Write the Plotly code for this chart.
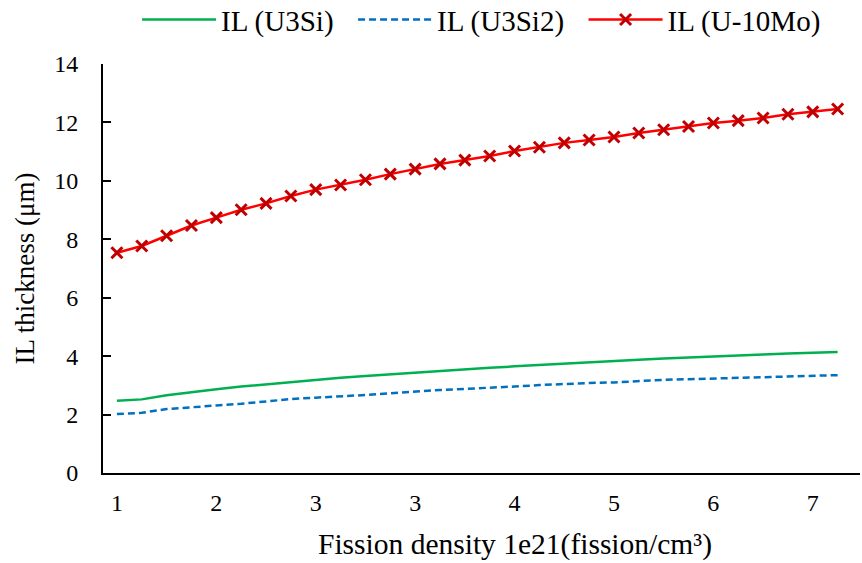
import plotly.graph_objects as go

fission_density = [1.0, 1.2, 1.4, 1.6, 1.8, 2.0, 2.2, 2.4, 2.6, 2.8,
                   3.0, 3.2, 3.4, 3.6, 3.8, 4.0, 4.2, 4.4, 4.6, 4.8,
                   5.0, 5.2, 5.4, 5.6, 5.8, 6.0, 6.2, 6.4, 6.6, 6.8]

il_u3si = [2.47, 2.52, 2.66, 2.77, 2.87, 2.96, 3.04, 3.12, 3.19, 3.26,
           3.32, 3.38, 3.44, 3.50, 3.55, 3.60, 3.65, 3.70, 3.75, 3.79,
           3.84, 3.88, 3.92, 3.96, 4.00, 4.03, 4.06, 4.09, 4.12, 4.14]

il_u3si2 = [2.02, 2.06, 2.19, 2.26, 2.31, 2.37, 2.46, 2.53, 2.58, 2.62,
            2.67, 2.73, 2.79, 2.84, 2.88, 2.91, 2.96, 3.01, 3.05, 3.08,
            3.10, 3.15, 3.19, 3.21, 3.23, 3.26, 3.29, 3.31, 3.33, 3.35]

il_u10mo = [7.54, 7.77, 8.12, 8.47, 8.74, 9.01, 9.23, 9.48, 9.70, 9.86,
            10.04, 10.23, 10.40, 10.58, 10.71, 10.85, 11.02, 11.15, 11.30, 11.40,
            11.50, 11.64, 11.75, 11.86, 11.98, 12.06, 12.15, 12.28, 12.36, 12.46]

series_names = ["IL (U3Si)", "IL (U3Si2)", "IL (U-10Mo)"]

y_ticks = [0, 2, 4, 6, 8, 10, 12, 14]

idx = list(range(len(fission_density)))
tick_idx = idx[::4]
tick_text = [f"{fission_density[i]:.0f}" for i in tick_idx]

FONT = "'Liberation Serif', 'Times New Roman', 'DejaVu Serif', serif"
PAD = "\u00a0\u00a0"

fig = go.Figure()
fig.add_trace(go.Scatter(x=idx, y=il_u3si, mode="lines", name=series_names[0] + PAD,
                         line=dict(color="#00B050", width=2.5)))
fig.add_trace(go.Scatter(x=idx, y=il_u3si2, mode="lines", name=series_names[1] + PAD,
                         line=dict(color="#0070C0", width=2.5, dash="7px,4px")))
fig.add_trace(go.Scatter(x=idx, y=il_u10mo, mode="lines+markers", name=series_names[2],
                         line=dict(color="#FF0000", width=2.5),
                         marker=dict(symbol="x-thin", size=11, color="#C00000",
                                     line=dict(color="#C00000", width=3))))

fig.update_layout(
    width=862, height=563,
    margin=dict(l=103, r=2, t=64, b=90, autoexpand=False),
    paper_bgcolor="white", plot_bgcolor="white",
    font=dict(family=FONT, color="#000000"),
    showlegend=True,
    legend=dict(orientation="h", x=0.045, xanchor="left", y=0.965, yanchor="middle",
                yref="container", font=dict(size=29, family=FONT), itemwidth=74,
                bgcolor="rgba(0,0,0,0)", tracegroupgap=0),
    xaxis=dict(range=[-0.56, 29.9], tickmode="array", tickvals=tick_idx, ticktext=tick_text,
               showgrid=False, zeroline=False, showline=True, linecolor="black", linewidth=2,
               ticks="", tickfont=dict(size=24, family=FONT), ticklabelstandoff=7),
    yaxis=dict(range=[0, 14], tickmode="array", tickvals=y_ticks,
               showgrid=False, zeroline=False, showline=True, linecolor="black", linewidth=2,
               ticks="inside", ticklen=8, tickwidth=2, tickcolor="black",
               tickfont=dict(size=24, family=FONT), ticklabelstandoff=18,
               title=dict(text="IL thickness (μm)", font=dict(size=27, family=FONT), standoff=12)),
    annotations=[dict(text="Fission density 1e21(fission/cm³)", xref="paper", yref="paper",
                      x=0.544, y=-0.176, xanchor="center", yanchor="middle", showarrow=False,
                      font=dict(size=29.5, family=FONT))],
)

fig.write_html("out.html")
